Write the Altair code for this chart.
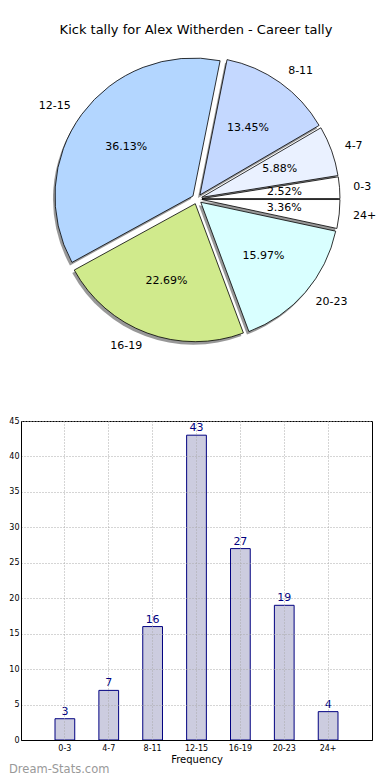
import math
import altair as alt
import pandas as pd

PI = math.pi

title_text = "Kick tally for Alex Witherden - Career tally"
categories = ["0-3", "4-7", "8-11", "12-15", "16-19", "20-23", "24+"]
counts = [3, 7, 16, 43, 27, 19, 4]
slice_colors = ["#ffffff", "#eaf1ff", "#c4d8ff", "#b3d6ff", "#d0ea8c", "#d9ffff", "#ffffff"]
y_ticks = [0, 5, 10, 15, 20, 25, 30, 35, 40, 45]
watermark = "Dream-Stats.com"

df = pd.DataFrame({"cat": categories, "count": counts,
                   "idx": list(range(len(categories))), "color": slice_colors})

FONT = "DejaVu Sans"
W = 351
PIE_H = 405
BAR_H = 319
CX, CY, R, D = 176, 191, 138, 5

base = (
    alt.Chart(df)
    .transform_joinaggregate(total="sum(count)")
    .transform_window(cum="sum(count)", sort=[alt.SortField("idx")], frame=[None, 0])
    .transform_calculate(mid="(datum.cum - datum.count/2)/datum.total")
    .transform_calculate(ang=f"{2.5*PI} - 2*PI*datum.mid")
    .transform_calculate(
        cx=f"{CX} + {D}*sin(datum.ang)",
        cy=f"{CY} - {D}*cos(datum.ang)",
    )
    .transform_calculate(
        sx="datum.cx - 2",
        sy="datum.cy + 3",
        lx=f"datum.cx + {1.1*R}*sin(datum.ang)",
        ly=f"datum.cy - {1.1*R}*cos(datum.ang)",
        px=f"datum.cx + {0.6*R}*sin(datum.ang)",
        py=f"datum.cy - {0.6*R}*cos(datum.ang)",
        side="sin(datum.ang) >= 0 ? 1 : 0",
        pct="format(100*datum.count/datum.total, '.2f') + '%'",
    )
)

theta_enc = alt.Theta("count:Q", stack=True,
                      scale=alt.Scale(range=[2.5 * PI, 0.5 * PI]))
order_enc = alt.Order("idx:Q")

shadow = base.mark_arc(outerRadius=R, fill="#444444", opacity=0.55, stroke=None).encode(
    theta=theta_enc, order=order_enc,
    x=alt.X("sx:Q", scale=None), y=alt.Y("sy:Q", scale=None),
)
slices = base.mark_arc(outerRadius=R, stroke="black", strokeWidth=0.8).encode(
    theta=theta_enc, order=order_enc,
    x=alt.X("cx:Q", scale=None), y=alt.Y("cy:Q", scale=None),
    fill=alt.Fill("color:N", scale=None),
)
lab_left = base.transform_filter("datum.side == 1").mark_text(
    align="left", baseline="middle", font=FONT, fontSize=11, color="black"
).encode(x=alt.X("lx:Q", scale=None), y=alt.Y("ly:Q", scale=None), text="cat:N")
lab_right = base.transform_filter("datum.side == 0").mark_text(
    align="right", baseline="middle", font=FONT, fontSize=11, color="black"
).encode(x=alt.X("lx:Q", scale=None), y=alt.Y("ly:Q", scale=None), text="cat:N")
pct = base.mark_text(
    align="center", baseline="middle", font=FONT, fontSize=11, color="black"
).encode(x=alt.X("px:Q", scale=None), y=alt.Y("py:Q", scale=None), text="pct:N")

title = alt.Chart(pd.DataFrame({"t": [title_text]})).mark_text(
    align="center", baseline="middle", font=FONT, fontSize=13, color="black"
).encode(x=alt.value(175), y=alt.value(22), text="t:N")

pie = alt.layer(shadow, slices, lab_left, lab_right, pct, title).properties(
    width=W, height=PIE_H, view=alt.ViewBackground(stroke=None)
)

xenc = alt.X(
    "cat:N", sort=categories,
    scale=alt.Scale(paddingInner=0, paddingOuter=0.5),
    axis=alt.Axis(title="Frequency", labelAngle=0, grid=True, bandPosition=0.5,
                  tickSize=0, labelPadding=4, titlePadding=2, zindex=1,
                  titleFontSize=10, titleFontWeight="normal"),
)
yenc = alt.Y(
    "count:Q", scale=alt.Scale(domain=[0, 45], nice=False),
    axis=alt.Axis(title=None, values=y_ticks, grid=True, tickSize=0,
                  labelPadding=2, zindex=1, labelOverlap=False),
)

bars = alt.Chart(df).mark_bar(
    width=alt.RelativeBandSize(0.45), fill="#ccccdf", stroke="#000080", strokeWidth=1
).encode(x=xenc, y=yenc)
vals = alt.Chart(df).mark_text(
    dy=-2, font=FONT, fontSize=11, color="#000080", baseline="bottom"
).encode(x=xenc, y=yenc, text="count:Q")
wm = alt.Chart(pd.DataFrame({"t": [watermark]})).mark_text(
    align="left", baseline="middle", font=FONT, fontSize=11.5,
    color="#999999"
).encode(x=alt.value(-12), y=alt.value(BAR_H + 30), text="t:N")

bar = alt.layer(bars, vals, wm).properties(
    width=W, height=BAR_H, view=alt.ViewBackground(stroke="black", strokeWidth=1)
)

chart = alt.vconcat(pie, bar, spacing=8, bounds="flush").properties(
    padding=0
).configure_axis(
    labelFont=FONT, titleFont=FONT, labelFontSize=8, labelColor="black",
    titleColor="black", domainColor="black", gridColor="#aaaaaa",
    gridDash=[1, 2], gridWidth=1,
).configure_view(stroke=None)

chart.save("out.html", embed_options={"renderer": "svg", "actions": False})
